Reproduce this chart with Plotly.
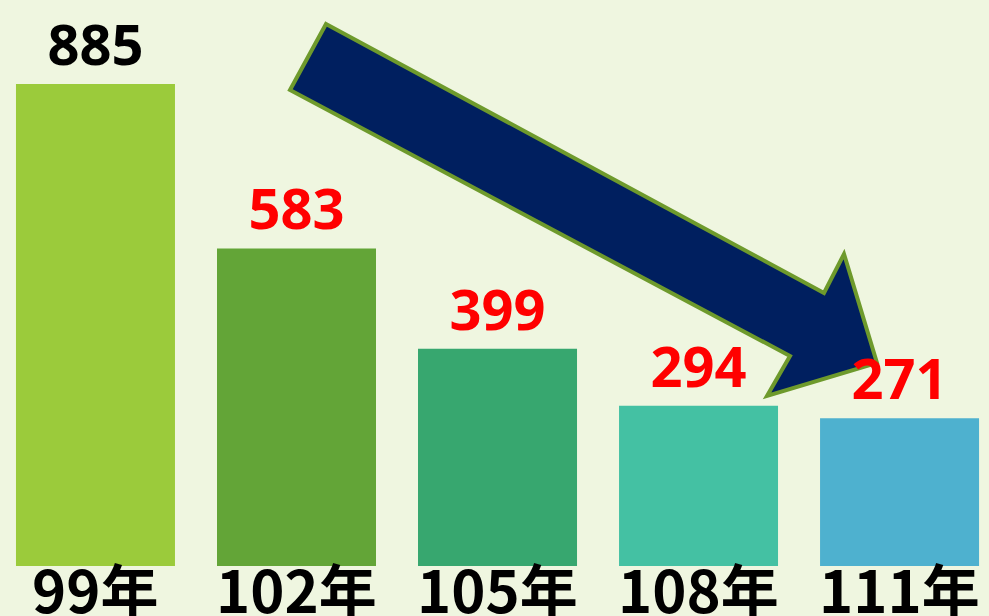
import plotly.graph_objects as go

categories = ["99年", "102年", "105年", "108年", "111年"]
values = [885, 583, 399, 294, 271]
bar_colors = ["#9BCB3B", "#63A537", "#37A76F", "#44C1A3", "#4EB1CF"]
label_colors = ["#000000", "#FF0000", "#FF0000", "#FF0000", "#FF0000"]

W, H = 989, 616
plot_h = 566

fig = go.Figure(go.Bar(
    x=categories,
    y=values,
    marker=dict(color=bar_colors, line=dict(width=0)),
    text=[str(v) for v in values],
    textposition="outside",
    textfont=dict(family="Noto Sans", size=56, color=label_colors, weight="bold"),
    cliponaxis=False,
    hoverinfo="skip",
))

# category labels under the bars
for cat in categories:
    fig.add_annotation(
        x=cat, y=0, xref="x", yref="y",
        text=cat, showarrow=False,
        xanchor="center", yanchor="top", yshift=22,
        font=dict(family="Noto Sans CJK TC", size=58, color="#000000", weight="bold"),
    )

# decorative arrow (pixel coords -> paper coords)
pts = [(326, 24), (824, 293), (844, 254), (877, 363), (767, 396), (790, 356), (290, 90)]
path = "M " + " L ".join(f"{x / W:.5f},{1 - y / plot_h:.5f}" for x, y in pts) + " Z"
fig.add_shape(type="path", xref="paper", yref="paper", path=path,
              fillcolor="#001F5F", line=dict(color="#6E9A2C", width=4), layer="below")

fig.update_layout(
    width=W, height=H,
    margin=dict(l=0, r=0, t=0, b=H - plot_h, autoexpand=False),
    paper_bgcolor="#EFF6E0",
    plot_bgcolor="rgba(0,0,0,0)",
    bargap=0.209,
    showlegend=False,
    xaxis=dict(
        range=[-0.475, 4.445],
        automargin=False, showticklabels=False,
        showgrid=False, zeroline=False, showline=False, ticks="",
        fixedrange=True,
    ),
    yaxis=dict(range=[0, 1039], visible=False, fixedrange=True, automargin=False),
)

fig.write_html(
    "out.html",
    config={"displayModeBar": False},
    post_script="document.body.style.margin='0';document.body.style.overflow='hidden';",
)
